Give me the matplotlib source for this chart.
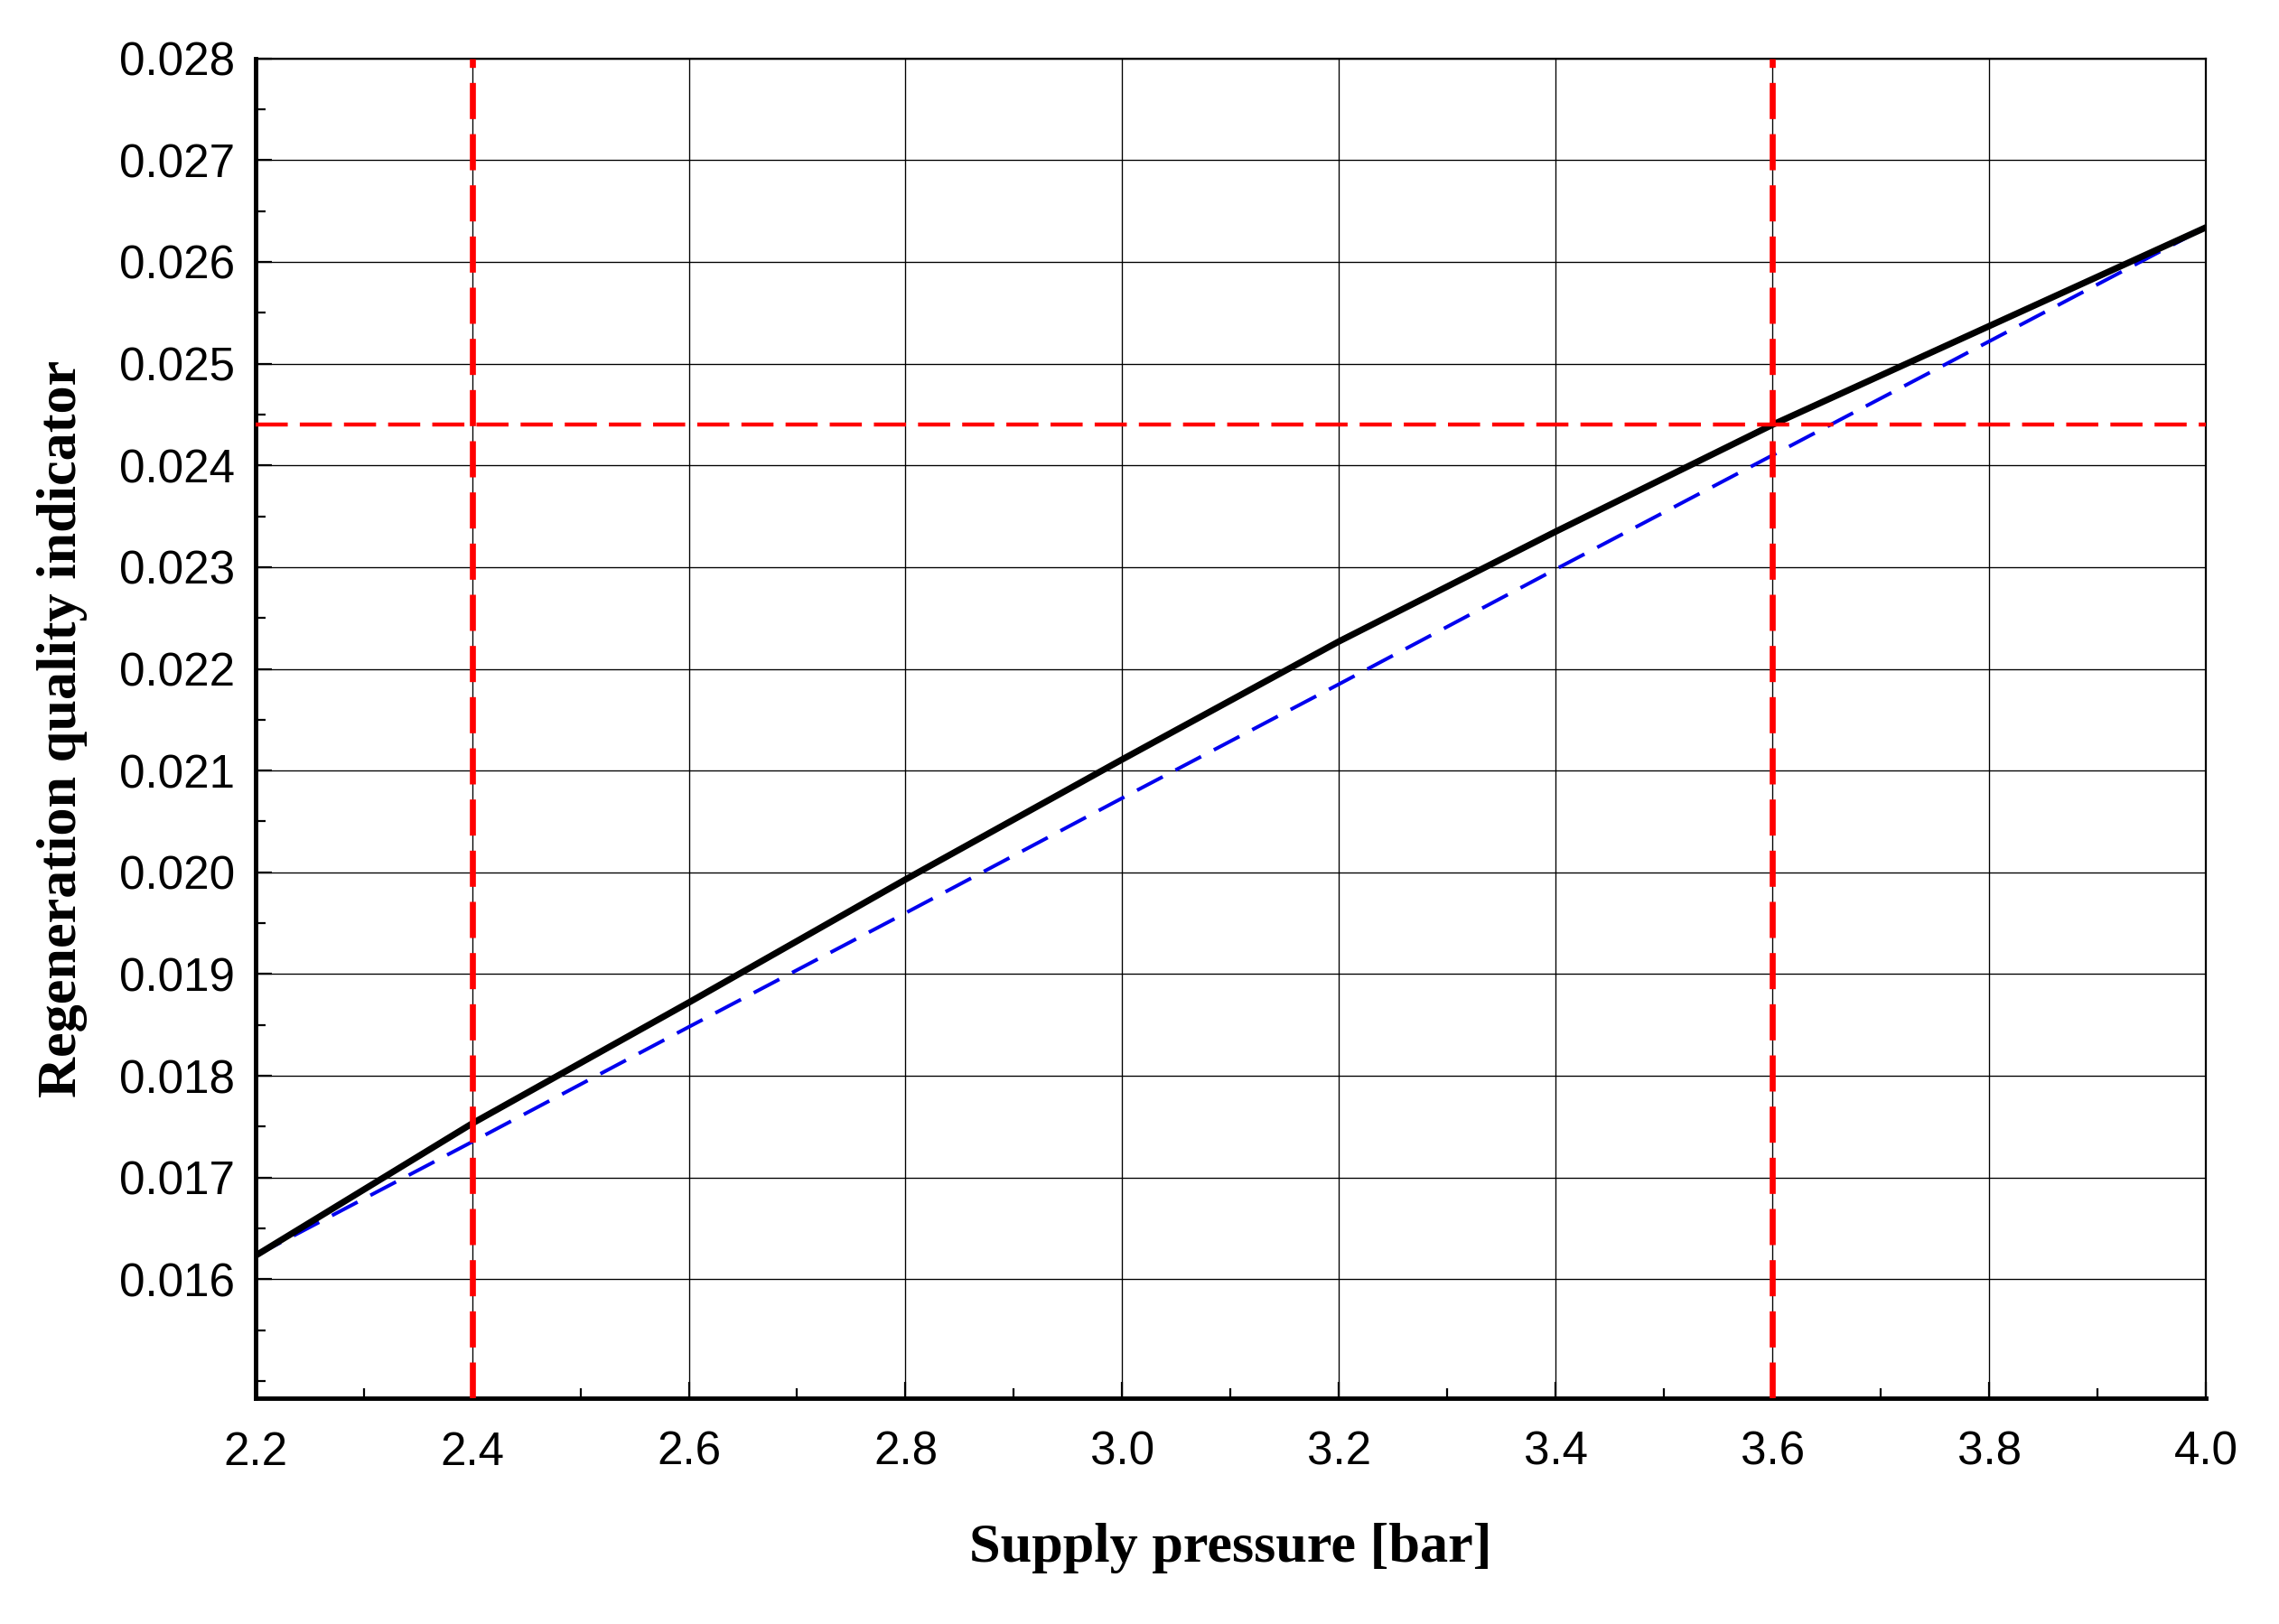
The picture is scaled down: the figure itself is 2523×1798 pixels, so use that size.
import matplotlib
matplotlib.use("Agg")
import matplotlib.pyplot as plt
from matplotlib.ticker import MultipleLocator, FixedLocator

x = [2.2, 2.4, 2.6, 2.8, 3.0, 3.2, 3.4, 3.6, 3.8, 4.0]
black = [0.01623, 0.01753, 0.01872, 0.01993, 0.02111, 0.02227, 0.02335, 0.02440, 0.02537, 0.02634]
blue = [0.01623, 0.01735, 0.01848, 0.01960, 0.02073, 0.02185, 0.02298, 0.02410, 0.02522, 0.02634]
vlines = [2.4, 3.6]
hline = 0.02440
yticks = [0.016, 0.017, 0.018, 0.019, 0.020, 0.021, 0.022, 0.023, 0.024, 0.025, 0.026, 0.027, 0.028]
xticks = [2.2, 2.4, 2.6, 2.8, 3.0, 3.2, 3.4, 3.6, 3.8, 4.0]

fig = plt.figure(figsize=(2523/160, 1798/160), dpi=160)
ax = fig.add_axes([0.112, 0.139, 0.856, 0.825])
ax.set_xlim(2.2, 4.0)
ax.set_ylim(0.01483, 0.028)
ax.grid(True, which='major', color='black', lw=0.6)
ax.plot(x, blue, color='#0000ee', lw=1.8, dashes=(8, 4), zorder=3)
ax.plot(x, black, color='black', lw=3.2, zorder=4)
for v in vlines:
    ax.axvline(v, color='red', lw=3, dashes=(6, 2.5), zorder=5)
ax.axhline(hline, color='red', lw=2, dashes=(8, 3), zorder=5)
ax.xaxis.set_major_locator(FixedLocator(xticks))
ax.yaxis.set_major_locator(FixedLocator(yticks))
ax.xaxis.set_minor_locator(MultipleLocator(0.1))
ax.yaxis.set_minor_locator(MultipleLocator(0.0005))
ax.set_xticklabels([f"{t:.1f}" for t in xticks])
ax.set_yticklabels([f"{t:.3f}" for t in yticks])
ax.tick_params(which='both', direction='in', labelsize=23, width=1)
ax.tick_params(axis='x', pad=16)
ax.tick_params(axis='y', pad=10)
ax.tick_params(which='major', length=8)
ax.tick_params(which='minor', length=5)
for lab in ax.get_xticklabels() + ax.get_yticklabels():
    lab.set_fontfamily('Liberation Sans')
for s in ax.spines.values():
    s.set_linewidth(1)
ax.spines['left'].set_linewidth(2.2)
ax.spines['bottom'].set_linewidth(2.2)
ax.set_xlabel('Supply pressure [bar]', fontfamily='Liberation Serif', fontweight='bold', fontsize=28, labelpad=24)
ax.set_ylabel('Regeneration quality indicator', fontfamily='Liberation Serif', fontweight='bold', fontsize=28, labelpad=16)
fig.savefig('out.png', dpi=160)
